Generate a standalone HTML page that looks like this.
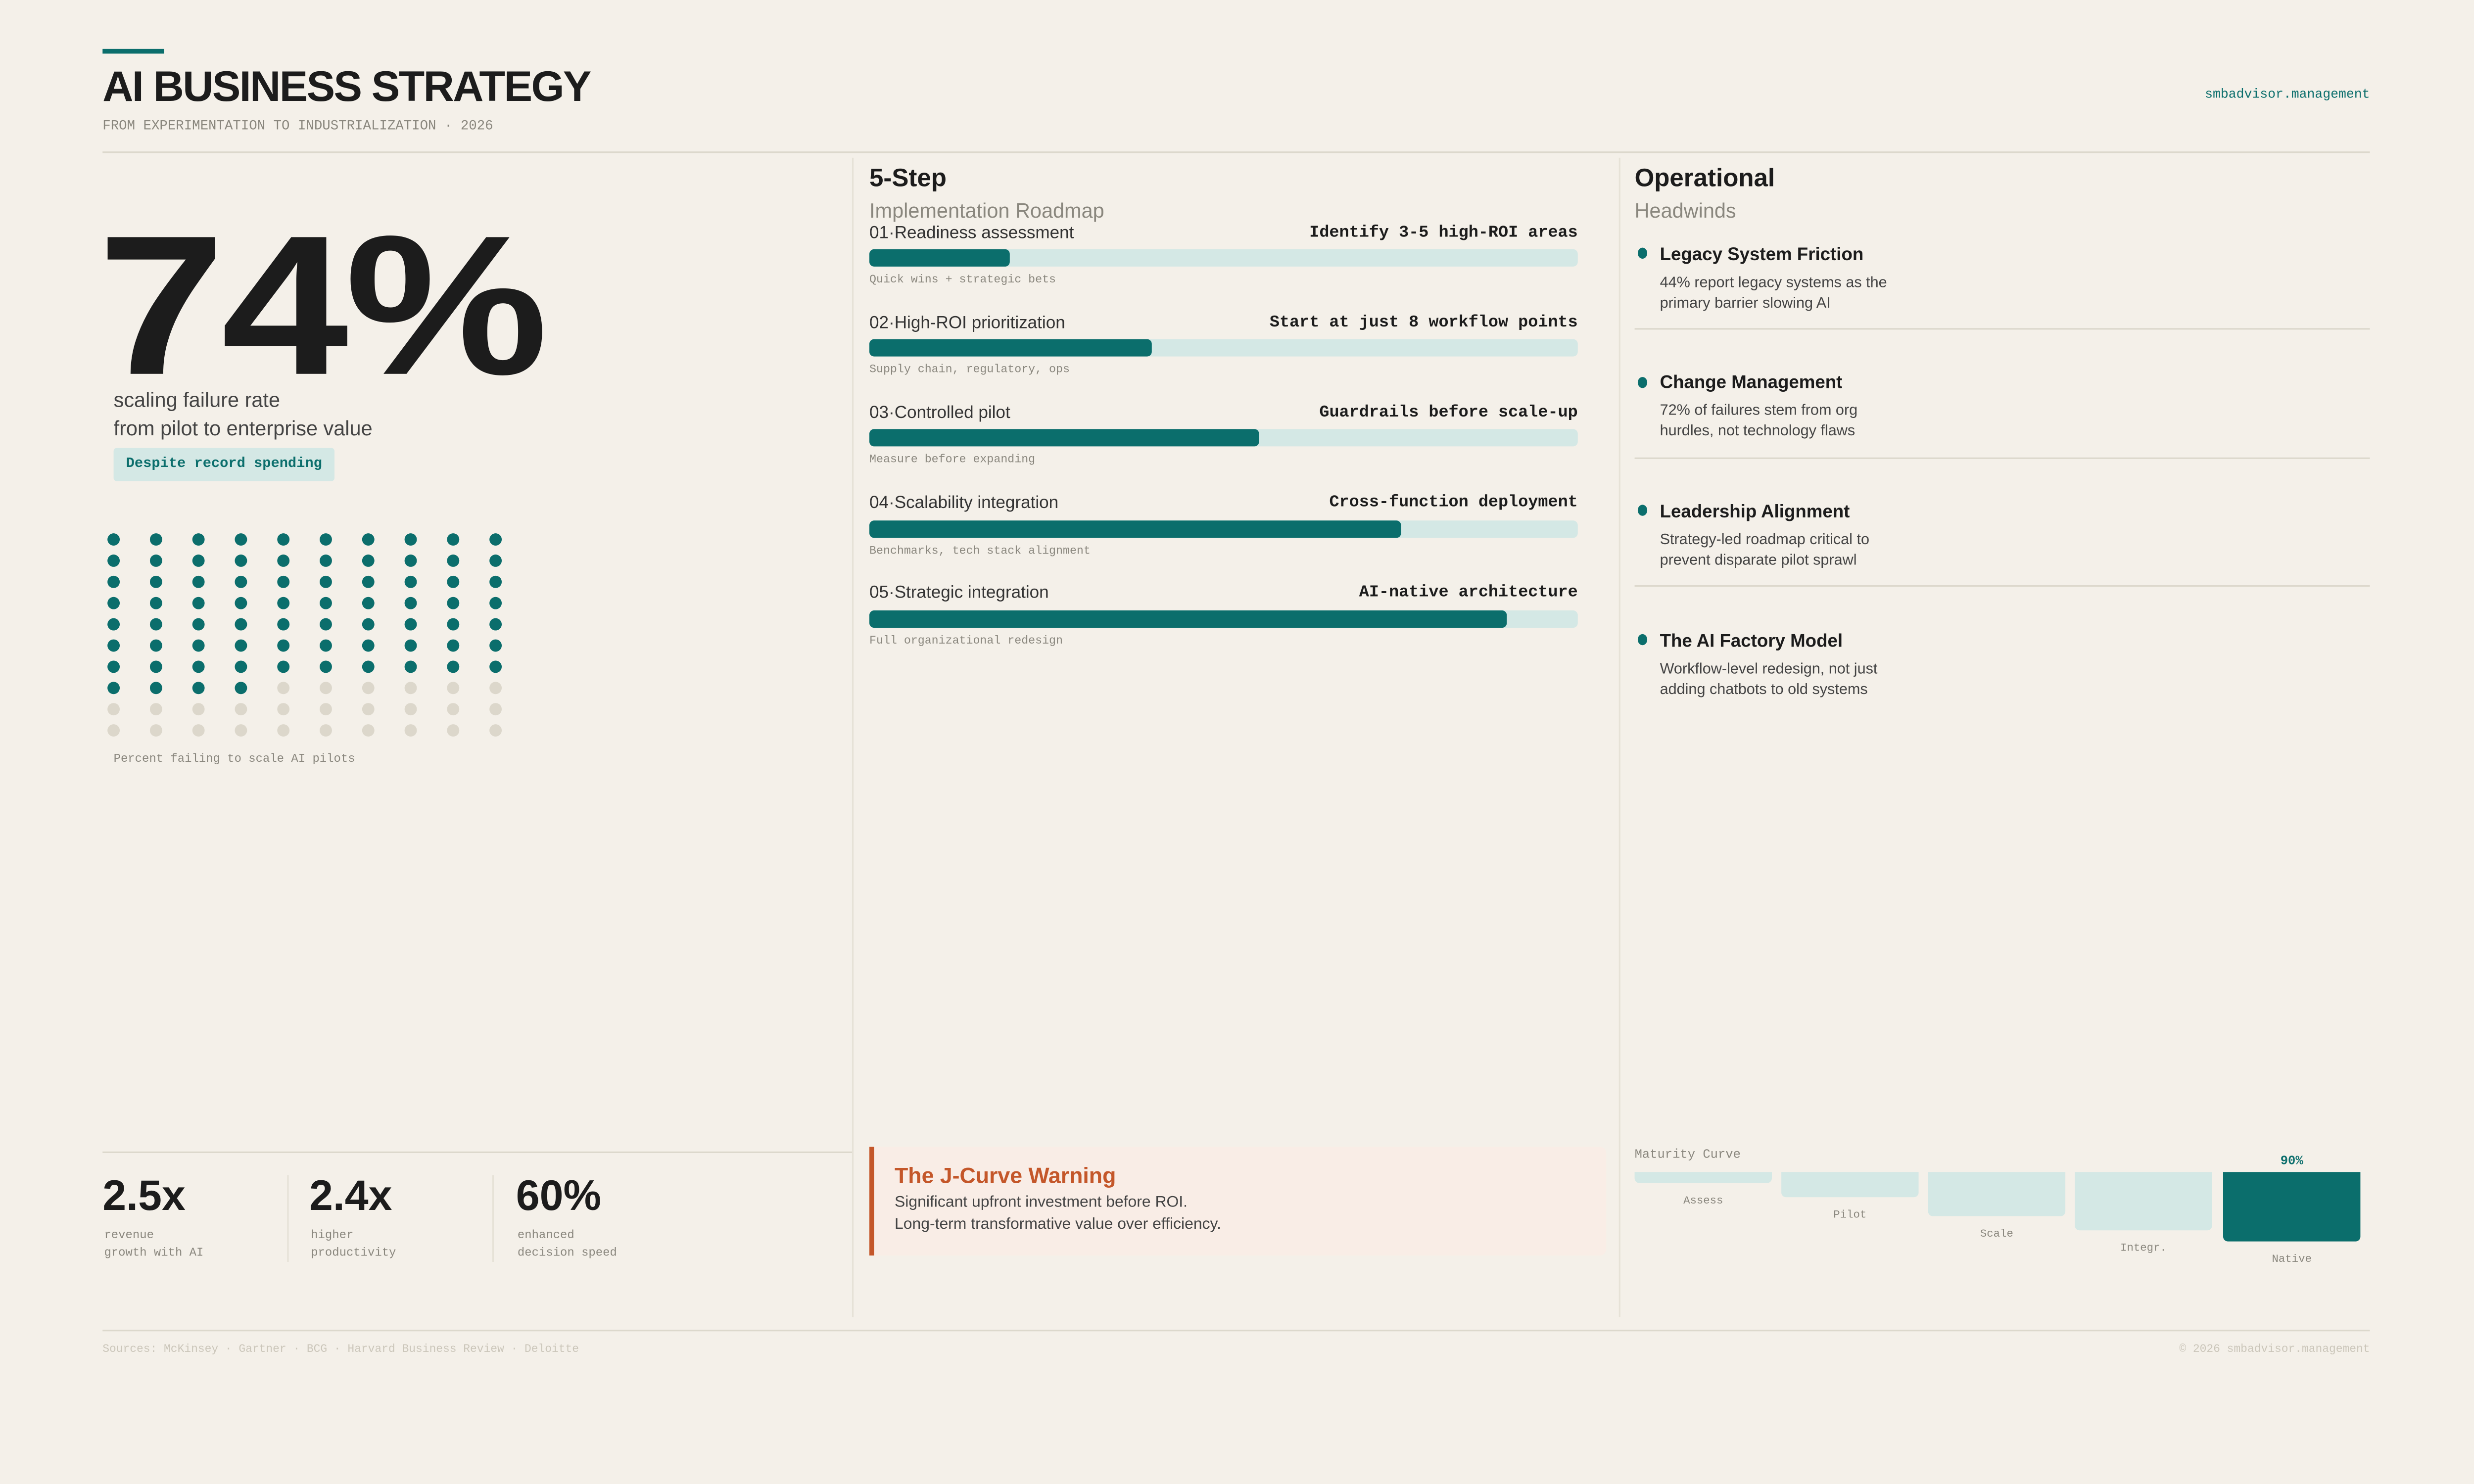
<!DOCTYPE html>
<html><head><meta charset="utf-8">
<style>
html,body{margin:0;padding:0;background:#f4f0e9;width:100%;height:100%;overflow:hidden;}
#s{position:absolute;left:0;top:0;width:1568px;height:882px;transform:scale(3.40179);transform-origin:0 0;background:#f4f0e9;font-family:"Liberation Sans",sans-serif;color:#1c1c1c;}
#s div{position:absolute;line-height:1;white-space:nowrap;}
.m{font-family:"Liberation Mono",monospace;}
.g{color:#8a877e;}
.ln{background:#dcd8cc;}
</style></head><body><div id="s">
<div style="left:65px;top:31px;width:39px;height:3px;background:#0b6e6c"></div>
<div style="left:65px;top:42px;font-size:27px;font-weight:bold;letter-spacing:-0.8px">AI BUSINESS STRATEGY</div>
<div class="m g" style="left:65px;top:76px;font-size:8.6px">FROM EXPERIMENTATION TO INDUSTRIALIZATION · 2026</div>
<div class="m" style="right:66px;top:57px;font-size:8.3px;color:#0b6e6c">smbadvisor.management</div>
<div class="ln" style="left:65px;top:95.5px;width:1437px;height:1px"></div>
<div class="ln" style="left:540px;top:100px;width:1px;height:735px;opacity:.6"></div>
<div class="ln" style="left:1026px;top:100px;width:1px;height:735px;opacity:.6"></div>

<div style="left:62px;top:131px;font-size:126px;font-weight:bold;letter-spacing:-2px;transform:scaleX(1.15);transform-origin:0 0">74%</div>
<div style="left:72px;top:247px;font-size:13px;color:#444">scaling failure rate</div>
<div style="left:72px;top:265px;font-size:13px;color:#444">from pilot to enterprise value</div>
<div class="m" style="left:72px;top:284px;width:140px;height:21px;background:#d4e8e5;border-radius:2px;color:#0b6e6c;font-size:9px;font-weight:bold;line-height:21px;text-align:center">Despite record spending</div>
<div style="left:0;top:0;width:400px;height:480px">
<svg width="400" height="480" style="position:absolute;left:0;top:0">
<g id="d"></g>
</svg></div>
<div class="m g" style="left:72px;top:479px;font-size:7.5px">Percent failing to scale AI pilots</div>

<div class="ln" style="left:65px;top:730px;width:475px;height:1px"></div>
<div style="left:65px;top:745px;font-size:27px;font-weight:bold">2.5x</div>
<div style="left:196px;top:745px;font-size:27px;font-weight:bold">2.4x</div>
<div style="left:327px;top:745px;font-size:27px;font-weight:bold">60%</div>
<div class="m g" style="left:66px;top:779px;font-size:7.5px;line-height:11px">revenue<br>growth with AI</div>
<div class="m g" style="left:197px;top:779px;font-size:7.5px;line-height:11px">higher<br>productivity</div>
<div class="m g" style="left:328px;top:779px;font-size:7.5px;line-height:11px">enhanced<br>decision speed</div>
<div class="ln" style="left:182px;top:745px;width:1px;height:55px;opacity:.6"></div>
<div class="ln" style="left:312px;top:745px;width:1px;height:55px;opacity:.6"></div>

<div style="left:551px;top:106px;font-size:16px;font-weight:bold">5-Step</div>
<div class="g" style="left:551px;top:127px;font-size:13px">Implementation Roadmap</div>
<div id="steps"></div>

<div style="left:551px;top:727px;width:464px;height:69px;background:#f9ede6;border-left:3px solid #c4572a;border-radius:0 4px 4px 0"></div>
<div style="left:567px;top:738px;font-size:14px;font-weight:bold;color:#c4572a">The J-Curve Warning</div>
<div style="left:567px;top:758px;font-size:10px;color:#444">Significant upfront investment before ROI.</div>
<div style="left:567px;top:772px;font-size:10px;color:#444">Long-term transformative value over efficiency.</div>

<div style="left:1036px;top:106px;font-size:16px;font-weight:bold">Operational</div>
<div class="g" style="left:1036px;top:127px;font-size:13px">Headwinds</div>
<div id="hw"></div>

<div class="m g" style="left:1036px;top:729px;font-size:8px">Maturity Curve</div>
<div id="mc"></div>
<div class="m" style="left:1409px;top:733px;width:87px;text-align:center;font-size:8px;font-weight:bold;color:#0b6e6c">90%</div>

<div class="ln" style="left:65px;top:842.5px;width:1437px;height:1px"></div>
<div class="m" style="left:65px;top:853px;font-size:7.2px;color:#cbc6ba">Sources: McKinsey · Gartner · BCG · Harvard Business Review · Deloitte</div>
<div class="m" style="right:66px;top:853px;font-size:7.2px;color:#cbc6ba">© 2026 smbadvisor.management</div>
</div>
<script>
var g=document.getElementById('d'),h='';
for(var r=0;r<10;r++)for(var c=0;c<10;c++){var i=r*10+c;h+='<circle cx="'+(72+c*26.9)+'" cy="'+(342+r*13.45)+'" r="3.9" fill="'+(i<74?'#0b6e6c':'#dcd7cb')+'"/>';}
g.innerHTML=h;
var S=[["01","Readiness assessment","Identify 3-5 high-ROI areas",640,"Quick wins + strategic bets"],["02","High-ROI prioritization","Start at just 8 workflow points",730,"Supply chain, regulatory, ops"],["03","Controlled pilot","Guardrails before scale-up",798,"Measure before expanding"],["04","Scalability integration","Cross-function deployment",888,"Benchmarks, tech stack alignment"],["05","Strategic integration","AI-native architecture",955,"Full organizational redesign"]];
h='';S.forEach(function(s,i){var y=147+i*57.2;
h+='<div style="left:551px;top:'+(y-4.5)+'px;font-size:11px;color:#333">'+s[0]+'·'+s[1]+'</div>';
h+='<div class="m" style="right:568px;top:'+(y-4.5)+'px;font-size:10.5px;font-weight:bold">'+s[2]+'</div>';
h+='<div style="left:551px;top:'+(y+11)+'px;width:449px;height:11px;background:#d4e8e5;border-radius:3px"></div>';
h+='<div style="left:551px;top:'+(y+11)+'px;width:'+(s[3]-551)+'px;height:11px;background:#0b6e6c;border-radius:3px"></div>';
h+='<div class="m g" style="left:551px;top:'+(y+28)+'px;font-size:7.3px">'+s[4]+'</div>';});
document.getElementById('steps').outerHTML=h;
var H=[["Legacy System Friction","44% report legacy systems as the","primary barrier slowing AI"],["Change Management","72% of failures stem from org","hurdles, not technology flaws"],["Leadership Alignment","Strategy-led roadmap critical to","prevent disparate pilot sprawl"],["The AI Factory Model","Workflow-level redesign, not just","adding chatbots to old systems"]];
h='';H.forEach(function(s,i){var y=161+i*81.7;
h+='<div style="left:1038px;top:'+(y-4)+'px;width:6px;height:7px;border-radius:50%;background:#0b6e6c"></div>';
h+='<div style="left:1052px;top:'+(y-4.5)+'px;font-size:11.5px;font-weight:bold">'+s[0]+'</div>';
h+='<div style="left:1052px;top:'+(y+11.5)+'px;font-size:9.6px;color:#444;line-height:13px;white-space:normal">'+s[1]+'<br>'+s[2]+'</div>';
if(i<3)h+='<div class="ln" style="left:1036px;top:'+(y+47)+'px;width:466px;height:1px"></div>';});
document.getElementById('hw').outerHTML=h;
var M=[["Assess",1036,750],["Pilot",1129,759],["Scale",1222,771],["Integr.",1315,780],["Native",1409,787]];
h='';M.forEach(function(m,i){h+='<div style="left:'+m[1]+'px;top:743px;width:87px;height:'+(m[2]-743)+'px;background:'+(i==4?'#0b6e6c':'#d4e8e5')+';border-radius:0 0 3px 3px"></div>';
h+='<div class="m g" style="left:'+m[1]+'px;top:'+(m[2]+9)+'px;width:87px;text-align:center;font-size:7px">'+m[0]+'</div>';});
document.getElementById('mc').outerHTML=h;
(function(){var w=window.innerWidth||document.documentElement.clientWidth||5334;var k=w/1568;
document.getElementById('s').style.transform='scale('+k+')';})();
</script>
</body></html>
